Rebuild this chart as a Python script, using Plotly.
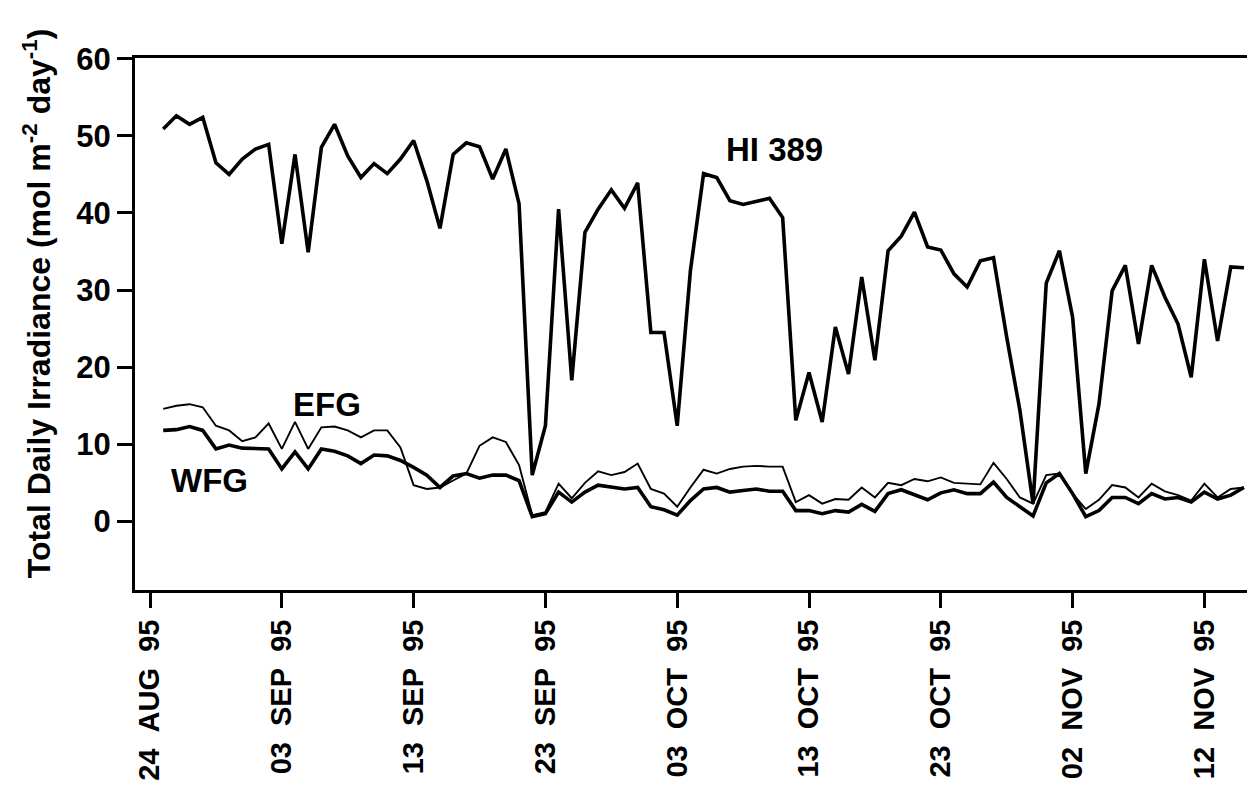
import plotly.graph_objects as go
import pandas as pd

# Daily dates (25 Aug 1995 .. 15 Nov 1995)
dates = pd.date_range("1995-08-25", "1995-11-15", freq="D")

hi389 = [50.9, 52.6, 51.5, 52.4, 46.5, 45.0, 47.0, 48.3, 48.9, 36.0,
         47.6, 34.9, 48.5, 51.5, 47.4, 44.6, 46.4, 45.1, 47.0, 49.4,
         44.2, 38.0, 47.6, 49.1, 48.6, 44.4, 48.3, 41.2, 6.0, 12.4,
         40.5, 18.3, 37.5, 40.5, 43.0, 40.6, 43.9, 24.5, 24.5, 12.4,
         32.5, 45.1, 44.6, 41.6, 41.1, 41.5, 41.9, 39.4, 13.1, 19.3,
         12.9, 25.2, 19.1, 31.7, 20.9, 35.1, 37.0, 40.1, 35.6, 35.2,
         32.1, 30.4, 33.8, 34.2, 23.9, 14.4, 2.3, 30.9, 35.1, 26.5,
         6.2, 15.2, 29.9, 33.2, 23.0, 33.2, 29.1, 25.6, 18.7, 34.0,
         23.4, 33.0, 32.9]

wfg = [11.8, 11.9, 12.3, 11.8, 9.4, 9.9, 9.5, 9.4, 9.4, 6.8,
       9.0, 6.8, 9.4, 9.1, 8.5, 7.5, 8.6, 8.5, 7.9, 7.0,
       6.0, 4.4, 5.9, 6.2, 5.6, 6.0, 6.0, 5.3, 0.6, 1.0,
       3.8, 2.5, 3.8, 4.7, 4.4, 4.2, 4.4, 1.9, 1.5, 0.8,
       2.7, 4.2, 4.4, 3.8, 4.0, 4.2, 3.9, 3.9, 1.4, 1.4,
       1.0, 1.4, 1.2, 2.2, 1.3, 3.6, 4.1, 3.4, 2.8, 3.7,
       4.1, 3.6, 3.6, 5.1, 3.1, 1.9, 0.7, 5.0, 6.2, 3.6,
       0.6, 1.4, 3.1, 3.1, 2.3, 3.6, 2.9, 3.1, 2.5, 3.8,
       2.9, 3.4, 4.4]

efg = [14.6, 15.0, 15.2, 14.8, 12.4, 11.8, 10.4, 10.9, 12.7, 9.4,
       12.9, 9.4, 12.2, 12.3, 11.8, 10.9, 11.8, 11.8, 9.6, 4.7,
       4.2, 4.4, 5.3, 6.2, 9.8, 10.9, 10.3, 7.3, 0.8, 1.2,
       4.9, 3.0, 5.0, 6.5, 6.0, 6.4, 7.5, 4.2, 3.6, 1.9,
       4.4, 6.7, 6.2, 6.8, 7.1, 7.2, 7.1, 7.1, 2.5, 3.4,
       2.3, 2.9, 2.8, 4.4, 3.1, 5.0, 4.7, 5.5, 5.2, 5.7,
       5.0, 4.9, 4.8, 7.6, 5.5, 3.1, 2.3, 6.0, 6.2, 3.6,
       1.6, 2.8, 4.7, 4.4, 3.1, 4.9, 3.9, 3.4, 2.7, 4.9,
       3.1, 4.2, 4.4]

tick_dates = ["1995-08-24", "1995-09-03", "1995-09-13", "1995-09-23",
              "1995-10-03", "1995-10-13", "1995-10-23", "1995-11-02",
              "1995-11-12"]
tick_labels = ["24  AUG  95", "03  SEP  95", "13  SEP  95", "23  SEP  95",
               "03  OCT  95", "13  OCT  95", "23  OCT  95", "02  NOV  95",
               "12  NOV  95"]
y_ticks = [0, 10, 20, 30, 40, 50, 60]

FONT = "Liberation Sans, Arial, Helvetica, sans-serif"
NB = "\u00a0"

fig = go.Figure()
fig.add_trace(go.Scatter(x=dates, y=efg, mode="lines", name="EFG",
                         line=dict(color="black", width=1.9)))
fig.add_trace(go.Scatter(x=dates, y=wfg, mode="lines", name="WFG",
                         line=dict(color="black", width=3.6)))
fig.add_trace(go.Scatter(x=dates, y=hi389, mode="lines", name="HI 389",
                         line=dict(color="black", width=3.6)))

x0 = pd.Timestamp("1995-08-24")
fig.update_layout(
    width=1247, height=787,
    margin=dict(l=127, r=0, t=50, b=205),
    paper_bgcolor="white", plot_bgcolor="white",
    showlegend=False,
    font=dict(family=FONT, size=32, color="black", weight="bold"),
    xaxis=dict(
        type="date", automargin=False,
        range=[x0 - pd.Timedelta(days=1.14), x0 + pd.Timedelta(days=83.84)],
        tickmode="array", tickvals=tick_dates,
        ticktext=[t.replace(" ", NB) for t in tick_labels],
        tickangle=-90, ticks="outside", ticklen=15, tickwidth=3,
        tickcolor="black", showline=True, linewidth=3, linecolor="black",
        mirror=True, showgrid=False, zeroline=False,
        tickfont=dict(family=FONT, size=29, color="black", weight="bold"),
    ),
    yaxis=dict(
        range=[-8.9, 60.1], tickmode="array", tickvals=y_ticks,
        automargin=False,
        ticks="outside", ticklen=15, tickwidth=3, tickcolor="black",
        showline=True, linewidth=3, linecolor="black", mirror=False,
        showgrid=False, zeroline=False,
        tickfont=dict(family=FONT, size=31, color="black", weight="bold"),
    ),
)

fig.add_annotation(xref="paper", yref="paper", x=-0.0875, y=0.539,
                   text="Total Daily Irradiance (mol m<sup>-2</sup> day<sup>-1</sup>)",
                   textangle=-90, showarrow=False, xanchor="center", yanchor="middle",
                   font=dict(family=FONT, size=32, color="black", weight="bold"))
fig.add_annotation(x="1995-10-10T10:00", y=48.2, text="HI 389", showarrow=False,
                   font=dict(family=FONT, size=33, color="black", weight="bold"))
fig.add_annotation(x="1995-09-06T10:00", y=15.1, text="EFG", showarrow=False,
                   font=dict(family=FONT, size=33, color="black", weight="bold"))
fig.add_annotation(x="1995-08-28T12:00", y=5.3, text="WFG", showarrow=False,
                   font=dict(family=FONT, size=33, color="black", weight="bold"))

fig.write_html("out.html")
